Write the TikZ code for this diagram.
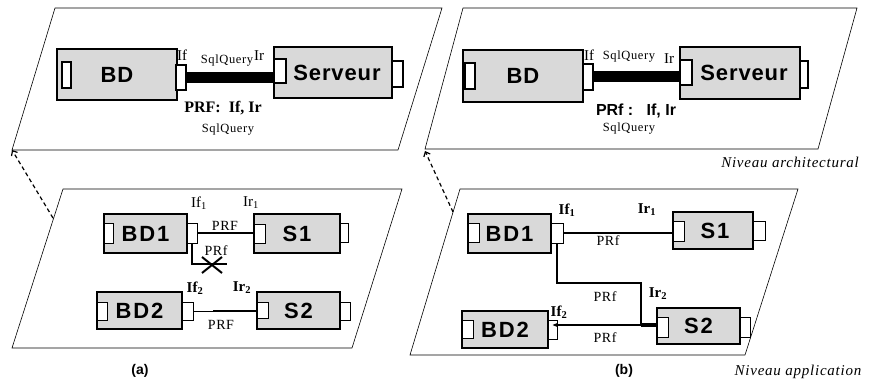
\documentclass[tikz,border=0pt]{standalone}
\usepackage{fontspec}
\setmainfont{Liberation Serif}
\newfontfamily\arialf{Liberation Sans}
\usetikzlibrary{arrows.meta,shapes.misc}
\definecolor{boxgray}{RGB}{217,217,217}
\begin{document}
\begin{tikzpicture}[x=1pt,y=-1pt,
  comp/.style={draw, fill=boxgray, line width=1.2pt, inner sep=0pt},
  bigcomp/.style={comp, line width=2pt},
  bigtxt/.style={font=\arialf\bfseries\fontsize{22}{22}\selectfont\addfontfeature{LetterSpace=4}},
  smtxt/.style={font=\arialf\bfseries\fontsize{22}{22}\selectfont\addfontfeature{LetterSpace=8}},
  port/.style={draw, fill=white, line width=1pt, inner sep=0pt},
  bigport/.style={port, line width=1.6pt},
  plane/.style={line width=0.6pt},
  lbl/.style={inner sep=0pt, font=\fontsize{15}{15}\selectfont},
  blbl/.style={inner sep=0pt, font=\bfseries\fontsize{15}{15}\selectfont},
  prf/.style={inner sep=0pt, font=\fontsize{14}{14}\selectfont\addfontfeature{LetterSpace=4}},
  sq/.style={inner sep=0pt, font=\fontsize{12.5}{12.5}\selectfont\addfontfeature{LetterSpace=5}},
  niv/.style={inner sep=0pt, font=\itshape\fontsize{15}{15}\selectfont\addfontfeature{LetterSpace=5}},
  captxt/.style={inner sep=0pt, font=\arialf\bfseries\fontsize{14}{14}\selectfont},
  dasharrow/.style={line width=1.2pt, dash pattern=on 4pt off 3pt, -{Straight Barb[length=4pt,width=7pt]}}
]
\useasboundingbox (0,0) rectangle (869,387);

% planes
\draw[plane] (55,8) -- (442,8) -- (398,150) -- (12,150) -- cycle;
\draw[plane] (463,8) -- (857,8) -- (818,149) -- (425,149) -- cycle;
\draw[plane] (63,189) -- (402,189) -- (352,348) -- (12,348) -- cycle;
\draw[plane] (460,189) -- (798,189) -- (745,355) -- (410,355) -- cycle;

% dashed arrows
\coordinate (da1) at (53,218); \coordinate (dt1) at (12,150);
\coordinate (da2) at (453,212); \coordinate (dt2) at (425,151);
\draw[dasharrow] (da1) -- (dt1);
\draw[dasharrow] (da2) -- (dt2);

% ---------- top left
\node[bigcomp, bigtxt, minimum width=120pt, minimum height=51pt] (bdA) at (117,74.5) {BD};
\node[bigport, minimum width=9pt, minimum height=26pt] (bdAL) at (66.5,75) {};
\node[bigport, minimum width=10pt, minimum height=25pt] (bdAR) at (181,77.5) {};
\node[bigcomp, bigtxt, minimum width=118pt, minimum height=51pt] (svA) at (333,72.5) {\hspace*{8pt}Serveur};
\node[bigport, minimum width=12pt, minimum height=24pt] (svAL) at (280,71) {};
\node[bigport, minimum width=11pt, minimum height=26pt] (svAR) at (397.5,74) {};
\draw[line width=11pt] (bdAR.east) -- (bdAR.east -| svAL.west);
\node[lbl] (ifA) at (182,55) {If};
\node[sq] (sqA1) at (227,61) {SqlQuery};
\node[lbl] (irA) at (259,56) {Ir};
\node[inner sep=0pt, font=\bfseries\fontsize{16}{16}\selectfont] (prfA) at (223,108) {PRF:\ \ If, Ir};
\node[sq] (sqA2) at (228,130) {SqlQuery};

% ---------- top right
\node[bigcomp, bigtxt, minimum width=120pt, minimum height=52pt] (bdB) at (523,76) {BD};
\node[bigport, minimum width=10pt, minimum height=26pt] (bdBL) at (470,76) {};
\node[bigport, minimum width=10pt, minimum height=26pt] (bdBR) at (588,77) {};
\node[bigcomp, bigtxt, minimum width=120pt, minimum height=52pt] (svB) at (740,73) {\hspace*{8pt}Serveur};
\node[bigport, minimum width=12pt, minimum height=25pt] (svBL) at (686,72.5) {};
\node[bigport, minimum width=8pt, minimum height=27pt] (svBR) at (804,74.5) {};
\draw[line width=11pt] (bdBR.east) -- (bdBR.east -| svBL.west);
\node[lbl] (ifB) at (589,55) {If};
\node[sq] (sqB1) at (629,57) {SqlQuery};
\node[lbl] (irB) at (669,59) {Ir};
\node[inner sep=0pt, font=\arialf\bfseries\fontsize{16}{16}\selectfont] (prfB) at (636,111) {PRf :\ \ \ If, Ir};
\node[sq] (sqB2) at (629,129) {SqlQuery};
\node[niv] (nivA) at (790,162) {Niveau architectural};

% ---------- bottom left (a)
\node[comp, smtxt, minimum width=83pt, minimum height=39pt] (bd1a) at (145.5,233.5) {BD1};
\node[port, minimum width=9pt, minimum height=19pt] (bd1aL) at (108.5,233.5) {};
\node[port, minimum width=10pt, minimum height=19pt] (bd1aR) at (192,233.5) {};
\node[comp, smtxt, minimum width=86pt, minimum height=39pt] (s1a) at (297,233.5) {S1};
\node[port, minimum width=11pt, minimum height=18pt] (s1aL) at (259.5,234) {};
\node[port, minimum width=8pt, minimum height=18pt] (s1aR) at (344,233) {};
\draw[line width=2pt] (bd1aR.east) -- (bd1aR.east -| s1aL.west);
\coordinate (la) at (227,264);
\draw[line width=2.5pt] (bd1aR.south) |- (la);
\node[cross out, draw, line width=2pt, minimum width=18pt, minimum height=14pt, inner sep=0pt] (xa) at (212,265) {};
\node[lbl] (if1a) at (199,203) {If\textsubscript{1}};
\node[lbl] (ir1a) at (251,203) {Ir\textsubscript{1}};
\node[prf] (prf1a) at (225,226) {PRF};
\node[prf] (prf2a) at (216,251) {PRf};

\node[comp, smtxt, minimum width=85pt, minimum height=37pt] (bd2a) at (139.5,310.5) {BD2};
\node[port, minimum width=10pt, minimum height=18pt] (bd2aL) at (102,311) {};
\node[port, minimum width=11pt, minimum height=18pt] (bd2aR) at (187.5,311) {};
\node[comp, smtxt, minimum width=83pt, minimum height=37pt] (s2a) at (298.5,310.5) {S2};
\node[port, minimum width=11pt, minimum height=16pt] (s2aL) at (262.5,310) {};
\node[port, minimum width=10pt, minimum height=18pt] (s2aR) at (345,311) {};
\coordinate (ja) at (213,311);
\draw[line width=1pt] (bd2aR.east) -- (ja);
\draw[line width=2pt] (ja) -- (ja -| s2aL.west);
\node[blbl] (if2a) at (195,288) {If\textsubscript{2}};
\node[blbl] (ir2a) at (242,288) {Ir\textsubscript{2}};
\node[prf] (prf3a) at (221,325) {PRF};
\node[captxt] (capa) at (140,371) {(a)};

% ---------- bottom right (b)
\node[comp, smtxt, minimum width=83pt, minimum height=39pt] (bd1b) at (509.5,233.5) {BD1};
\node[port, minimum width=11pt, minimum height=18pt] (bd1bL) at (473.5,233) {};
\node[port, minimum width=12pt, minimum height=19pt] (bd1bR) at (557,233.5) {};
\node[comp, smtxt, minimum width=80pt, minimum height=37pt] (s1b) at (713,230.5) {\hspace*{4pt}S1};
\node[port, minimum width=11pt, minimum height=19pt] (s1bL) at (678.5,231.5) {};
\node[port, minimum width=12pt, minimum height=18pt] (s1bR) at (759,231) {};
\draw[line width=2pt] (bd1bR.east) -- (bd1bR.east -| s1bL.west);

\node[comp, smtxt, minimum width=86pt, minimum height=37pt] (bd2b) at (505,329.5) {BD2};
\node[port, minimum width=11pt, minimum height=18pt] (bd2bL) at (467.5,329) {};
\node[port, minimum width=9pt, minimum height=19pt] (bd2bR) at (552.5,329.5) {};
\node[comp, smtxt, minimum width=83pt, minimum height=36pt] (s2b) at (698.5,326) {S2};
\node[port, minimum width=11pt, minimum height=20pt] (s2bL) at (662.5,327) {};
\node[port, minimum width=10pt, minimum height=20pt] (s2bR) at (745,327) {};

\coordinate (kb) at (641,283);
\coordinate (jb) at (641,325);
\draw[line width=2.5pt] (bd1bR.south) |- (kb) -- (jb);
\draw[line width=2pt, -{Stealth[length=5pt,width=4pt]}] (jb) -- (jb -| bd2bR.center);
\draw[line width=4pt] (jb) -- (jb -| s2bL.west);

\node[blbl] (if1b) at (567,210) {If\textsubscript{1}};
\node[blbl] (ir1b) at (647,210) {Ir\textsubscript{1}};
\node[prf] (prf1b) at (608,241) {PRf};
\node[prf] (prf2b) at (605,297) {PRf};
\node[blbl] (ir2b) at (658,294) {Ir\textsubscript{2}};
\node[blbl] (if2b) at (559,312) {If\textsubscript{2}};
\node[prf] (prf3b) at (605,338) {PRf};
\node[captxt] (capb) at (624,371) {(b)};
\node[niv] (nivB) at (798,372) {Niveau application};
\end{tikzpicture}
\end{document}
